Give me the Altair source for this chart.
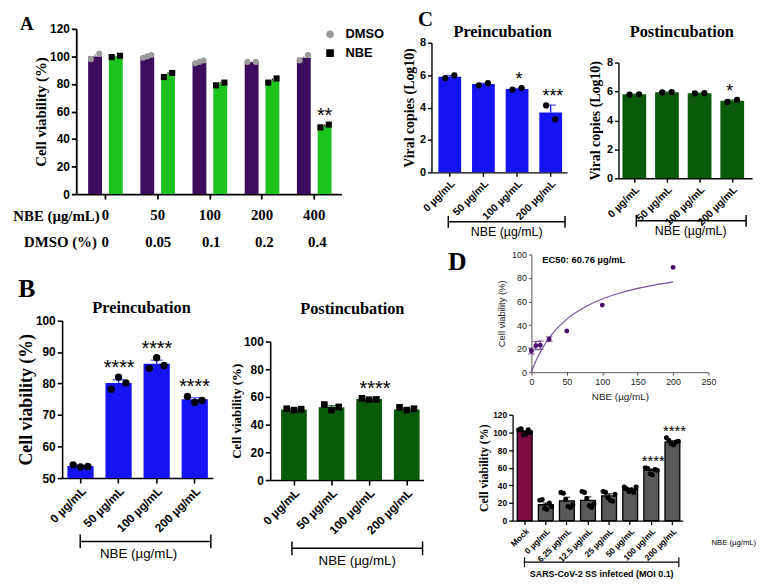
import altair as alt
import pandas as pd

SANS = "Liberation Sans"
SERIF = "Liberation Serif"
W, H = 756, 580
M = 8


def X(v):
    return v - M


def Y(v):
    return v - M


# ---------------- data ----------------
# Panel A
a_conc = ["0", "50", "100", "200", "400"]
a_dmso_pct = ["0", "0.05", "0.1", "0.2", "0.4"]
a_dmso_mean = [100, 99.5, 95.5, 96, 99]
a_dmso_err = [1.5, 0.6, 0.8, 0.3, 1.5]
a_dmso_pts = [[98, 102], [99, 100, 101], [95, 96, 97], [96, 96], [97, 101]]
a_nbe_mean = [100, 87, 80.5, 82.5, 49.5]
a_nbe_err = [0.5, 1.5, 1.0, 1.5, 1.0]
a_nbe_pts = [[99.5, 100.5], [85, 88], [79, 81], [81, 84], [48.5, 50.5]]
a_nbe_stars = ["", "", "", "", "**"]

# Panel B
b_cats = ["0 µg/mL", "50 µg/mL", "100 µg/mL", "200 µg/mL"]
b_pre_mean = [53.8, 80.2, 86.3, 75.0]
b_pre_err = [0.2, 1.0, 1.1, 0.5]
b_pre_pts = [[54.2, 53.5, 53.7], [78.2, 82.0, 80.2], [84.8, 88.2, 85.7], [75.9, 74.0, 74.6]]
b_pre_stars = ["", "****", "****", "****"]
b_post_mean = [51.0, 52.5, 58.5, 51.0]
b_post_err = [0.3, 1.2, 0.4, 0.6]
b_post_pts = [[51.5, 50.5, 51.2], [54.5, 50.5, 52.8], [59.0, 58.0, 58.2], [52.5, 50.5, 51.5]]
b_post_stars = ["", "", "****", ""]

# Panel C
c_cats = ["0 µg/mL", "50 µg/mL", "100 µg/mL", "200 µg/mL"]
c_pre_mean = [5.9, 5.45, 5.15, 3.7]
c_pre_err = [0.08, 0.05, 0.03, 0.45]
c_pre_pts = [[5.82, 5.98], [5.37, 5.5], [5.1, 5.2], [4.13, 3.27]]
c_pre_stars = ["", "", "*", "***"]
c_post_mean = [5.8, 5.95, 5.87, 5.35]
c_post_err = [0.02, 0.02, 0.02, 0.07]
c_post_pts = [[5.78, 5.8], [5.93, 5.96], [5.87, 5.88], [5.28, 5.42]]
c_post_stars = ["", "", "", "*"]

# Panel D (dose response)
d_conc = [0, 6.25, 12.5, 25, 50, 100, 200]
d_via = [18, 22.5, 23, 28, 35, 57, 89]
d_via_err = [2.5, 3.5, 3.5, 2, 0, 0, 0]
d_fit_x = [0, 5, 10, 20, 30, 50, 75, 100, 125, 150, 175, 200]
d_fit_y = [0, 7.6, 14.1, 24.8, 33, 45.1, 55.2, 62.2, 67.3, 71.2, 74.2, 76.7]

# Panel D (bars)
e_cats = ["Mock", "0 µg/mL", "6.25 µg/mL", "12.5 µg/mL", "25 µg/mL", "50 µg/mL", "100 µg/mL", "200 µg/mL"]
e_mean = [101, 18, 22.5, 23, 28, 35, 57, 89]
e_err = [1, 2, 4, 4, 2.5, 1.5, 1.5, 1.5]
e_pts = [
    [103, 104, 97, 98, 103, 100],
    [23, 24, 14, 13, 20, 16],
    [32, 31, 24, 16, 15, 18],
    [33, 32, 25, 17, 15, 19],
    [33, 32, 26, 23, 22, 30],
    [38, 36, 33, 35, 32, 38],
    [60, 59, 53, 52, 58, 57],
    [94, 91, 87, 86, 89, 90],
]
e_stars = ["", "", "", "", "", "", "****", "****"]

# ---------------- colours ----------------
PURPLE = "#3e0c5c"
GREEN = "#1ec21e"
BLUE = "#1414f2"
DKGREEN = "#0b5a0b"
MAROON = "#7c0b3f"
GREY = "#595959"
DPURPLE = "#4a0f6b"

ONE = alt.Data(values=[{}])
units = []


def band_scale(domain, axis_start, axis_end, first_start, last_end, bw):
    n = len(domain)
    step = (last_end - first_start - bw) / (n - 1)
    pi = 1 - bw / step
    span = axis_end - axis_start
    po = max((span / step - (n - pi)) / 2, 0.001)
    align = (first_start - axis_start) / (2 * po * step)
    align = min(max(align, 0), 1)
    return alt.Scale(domain=domain, range=[X(axis_start), X(axis_end)],
                     paddingInner=pi, paddingOuter=po, align=align)


def yaxis(x_px, values, title, tfont, tsize, tpad, lsize, lweight="bold",
          color="black", dwidth=1.5, tick=5, tweight="bold", tcolor="black"):
    return alt.Axis(orient="left", offset=-X(x_px), values=values, title=title,
                    titleFont=tfont, titleFontSize=tsize, titleFontWeight=tweight,
                    titleColor=tcolor, titlePadding=tpad, labelFont=SANS,
                    labelFontSize=lsize, labelFontWeight=lweight, labelColor=tcolor,
                    labelPadding=2, domainColor=color, domainWidth=dwidth,
                    tickColor=color, tickWidth=dwidth, tickSize=tick, grid=False,
                    labelOverlap=False)


def xaxis(y_px, angle, lsize, lfont=SANS, lweight="bold", lpad=2, color="black",
          dwidth=1.5, tick=5, title=None, values=None, tsize=10, tpad=4,
          tcolor="black"):
    kw = dict(orient="bottom", offset=Y(y_px) - H, labelAngle=angle,
              labelFont=lfont, labelFontSize=lsize, labelFontWeight=lweight,
              labelColor=tcolor, labelPadding=lpad, domainColor=color,
              domainWidth=dwidth, tickColor=color, tickWidth=dwidth,
              tickSize=tick, grid=False, labelOverlap=False, labelFlush=False)
    if title is not None:
        kw.update(title=title, titleFont=SANS, titleFontSize=tsize,
                  titleFontWeight="normal", titleColor=tcolor, titlePadding=tpad)
    else:
        kw.update(title=None)
    if values is not None:
        kw.update(values=values)
    return alt.Axis(**kw)


def label(text, x, y, size, font=SANS, weight="normal", align="center",
          baseline="middle", color="black"):
    return alt.Chart(ONE).mark_text(
        text=text, font=font, fontSize=size, fontWeight=weight, align=align,
        baseline=baseline, color=color
    ).encode(x=alt.value(X(x)), y=alt.value(Y(y)))


def bracket(x1, x2, y, cap=6, w=1.5):
    h = alt.Chart(ONE).mark_rule(color="black", strokeWidth=w).encode(
        x=alt.value(X(x1)), x2=alt.value(X(x2)), y=alt.value(Y(y)))
    l = alt.Chart(ONE).mark_rule(color="black", strokeWidth=w).encode(
        x=alt.value(X(x1)), y=alt.value(Y(y - cap)), y2=alt.value(Y(y + cap)))
    r = alt.Chart(ONE).mark_rule(color="black", strokeWidth=w).encode(
        x=alt.value(X(x2)), y=alt.value(Y(y - cap)), y2=alt.value(Y(y + cap)))
    return [h, l, r]


def spread(n, lo=0.22, hi=0.78):
    if n == 1:
        return [0.5]
    return [lo + (hi - lo) * i / (n - 1) for i in range(n)]


# ---------------- Panel A ----------------
A_BW = 35
a_x = band_scale(a_conc, 77, 345, 89, 335, A_BW)
a_y = alt.Scale(domain=[0, 120], range=[Y(193), Y(26)], nice=False)
a_off_band = alt.Scale(domain=["DMSO", "NBE"], range=[0, A_BW], paddingInner=1 / 3, paddingOuter=0)
a_off_q = alt.Scale(domain=[0, 1], range=[0, A_BW])

a_rows = []
for i, c in enumerate(a_conc):
    a_rows.append(dict(conc=c, group="DMSO", mean=a_dmso_mean[i], top=a_dmso_mean[i] + a_dmso_err[i],
                       f=0.2, star="", sy=max(a_dmso_pts[i]), pct=a_dmso_pct[i]))
    a_rows.append(dict(conc=c, group="NBE", mean=a_nbe_mean[i], top=a_nbe_mean[i] + a_nbe_err[i],
                       f=0.8, star=a_nbe_stars[i], sy=max(a_nbe_pts[i]), pct=a_dmso_pct[i]))
a_df = pd.DataFrame(a_rows)
a_pts_rows = []
for i, c in enumerate(a_conc):
    for grp, pts, base in (("DMSO", a_dmso_pts[i], 0.0), ("NBE", a_nbe_pts[i], 0.6)):
        for v, f in zip(pts, spread(len(pts), base + 0.08, base + 0.32)):
            a_pts_rows.append(dict(conc=c, group=grp, v=v, f=f))
a_pts_df = pd.DataFrame(a_pts_rows)

units.append(alt.Chart(a_df).mark_bar().encode(
    x=alt.X("conc:N", scale=a_x, axis=xaxis(193, 0, 15, lfont=SERIF, lpad=9, dwidth=1.8)),
    xOffset=alt.XOffset("group:N", scale=a_off_band),
    y=alt.Y("mean:Q", scale=a_y,
            axis=yaxis(77, list(range(0, 121, 20)), "Cell viability (%)", SERIF, 15, 1, 12, dwidth=1.8)),
    color=alt.Color("group:N", scale=alt.Scale(domain=["DMSO", "NBE"], range=[PURPLE, GREEN]), legend=None),
))
units.append(alt.Chart(a_df).mark_rule(strokeWidth=1.2).encode(
    x=alt.X("conc:N", scale=a_x, axis=None, bandPosition=0),
    xOffset=alt.XOffset("f:Q", scale=a_off_q),
    y=alt.Y("mean:Q", scale=a_y, axis=None), y2="top:Q",
    color=alt.Color("group:N", scale=alt.Scale(domain=["DMSO", "NBE"], range=["#888888", "#111111"]), legend=None),
))
a_legend = alt.Legend(orient="none", legendX=X(327), legendY=Y(25), title=None,
                      labelFont=SANS, labelFontWeight="bold", labelFontSize=13,
                      symbolSize=60, rowPadding=5, labelOffset=9, symbolStrokeWidth=0)
units.append(alt.Chart(a_pts_df).mark_point(filled=True, size=38, opacity=1).encode(
    x=alt.X("conc:N", scale=a_x, axis=None, bandPosition=0),
    xOffset=alt.XOffset("f:Q", scale=a_off_q),
    y=alt.Y("v:Q", scale=a_y, axis=None),
    fill=alt.Fill("group:N", scale=alt.Scale(domain=["DMSO", "NBE"], range=["#9b9b9b", "#000000"]), legend=a_legend),
    shape=alt.Shape("group:N", scale=alt.Scale(domain=["DMSO", "NBE"], range=["circle", "square"]), legend=a_legend),
))
units.append(alt.Chart(a_df).mark_text(font=SANS, fontSize=20, baseline="bottom", dy=1).encode(
    x=alt.X("conc:N", scale=a_x, axis=None, bandPosition=0),
    xOffset=alt.XOffset("f:Q", scale=a_off_q),
    y=alt.Y("sy:Q", scale=a_y, axis=None),
    text="star:N",
))
units.append(alt.Chart(a_df[a_df.group == "DMSO"]).mark_text(
    font=SERIF, fontSize=15, fontWeight="bold").encode(
    x=alt.X("conc:N", scale=a_x, axis=None),
    y=alt.value(Y(241)),
    text="pct:N",
))


# ---------------- generic bar panel ----------------
def bar_panel(cats, means, errs, pts, stars, *, xs, y_scale, ymin, bw, xax, yax,
              colors, err_color, pt_shape="circle", pt_size=50, star_size=18,
              stroke=None, pt_lo=0.22, pt_hi=0.78):
    df = pd.DataFrame(dict(cat=cats, mean=means,
                           top=[m + e for m, e in zip(means, errs)],
                           star=stars,
                           sy=[max(max(p), m + e) for p, m, e in zip(pts, means, errs)]))
    prow = []
    for c, p in zip(cats, pts):
        for v, f in zip(p, spread(len(p), pt_lo, pt_hi)):
            prow.append(dict(cat=c, v=v, f=f))
    pdf = pd.DataFrame(prow)
    off = alt.Scale(domain=[0, 1], range=[0, bw])
    bar_kw = dict(stroke=stroke, strokeWidth=1.3) if stroke else {}
    out = []
    out.append(alt.Chart(df).mark_bar(**bar_kw).encode(
        x=alt.X("cat:N", scale=xs, axis=xax),
        y=alt.Y("mean:Q", scale=y_scale, axis=yax),
        y2=alt.datum(ymin),
        color=alt.Color("cat:N", scale=alt.Scale(domain=cats, range=colors), legend=None),
    ))
    out.append(alt.Chart(df).mark_rule(color=err_color, strokeWidth=1.3).encode(
        x=alt.X("cat:N", scale=xs, axis=None),
        y=alt.Y("mean:Q", scale=y_scale, axis=None), y2="top:Q"))
    out.append(alt.Chart(df).mark_tick(color=err_color, thickness=1.3, size=bw * 0.45).encode(
        x=alt.X("cat:N", scale=xs, axis=None),
        y=alt.Y("top:Q", scale=y_scale, axis=None)))
    out.append(alt.Chart(pdf).mark_point(filled=True, size=pt_size, shape=pt_shape,
                                         color="black", opacity=1).encode(
        x=alt.X("cat:N", scale=xs, axis=None, bandPosition=0),
        xOffset=alt.XOffset("f:Q", scale=off),
        y=alt.Y("v:Q", scale=y_scale, axis=None)))
    out.append(alt.Chart(df).mark_text(font=SANS, fontSize=star_size, baseline="bottom", dy=1).encode(
        x=alt.X("cat:N", scale=xs, axis=None),
        y=alt.Y("sy:Q", scale=y_scale, axis=None),
        text="star:N"))
    return out


# B pre
units += bar_panel(
    b_cats, b_pre_mean, b_pre_err, b_pre_pts, b_pre_stars,
    xs=band_scale(b_cats, 62.7, 215, 68, 210, 26.5),
    y_scale=alt.Scale(domain=[50, 100], range=[Y(480), Y(320.7)], nice=False, zero=False),
    ymin=50, bw=26.5,
    xax=xaxis(480, -45, 12, dwidth=1.6),
    yax=yaxis(62.7, [50, 60, 70, 80, 90, 100], "Cell viability (%)", SERIF, 18, 0, 12, dwidth=1.6),
    colors=[BLUE] * 4, err_color=BLUE, pt_size=55, star_size=20)

# B post
units += bar_panel(
    b_cats, b_post_mean, b_post_err, b_post_pts, b_post_stars,
    xs=band_scale(b_cats, 273, 428, 284, 424, 26),
    y_scale=alt.Scale(domain=[0, 100], range=[Y(482), Y(342)], nice=False),
    ymin=0, bw=26,
    xax=xaxis(482, -45, 12, dwidth=1.6),
    yax=yaxis(273, [0, 20, 40, 60, 80, 100], "Cell viability (%)", SERIF, 13, 0, 12, dwidth=1.6),
    colors=[DKGREEN] * 4, err_color=DKGREEN, pt_shape="square", pt_size=45, star_size=20)

# C pre
units += bar_panel(
    c_cats, c_pre_mean, c_pre_err, c_pre_pts, c_pre_stars,
    xs=band_scale(c_cats, 436, 573, 443, 568, 23),
    y_scale=alt.Scale(domain=[0, 8], range=[Y(171), Y(40)], nice=False),
    ymin=0, bw=23,
    xax=xaxis(171, -45, 10.5, dwidth=1.4, tick=4),
    yax=yaxis(436, [0, 2, 4, 6, 8], "Viral copies (Log10)", SERIF, 14, 3, 11, dwidth=1.4, tick=4),
    colors=[BLUE] * 4, err_color=BLUE, pt_size=40, star_size=18, pt_lo=0.3, pt_hi=0.7)

# C post
units += bar_panel(
    c_cats, c_post_mean, c_post_err, c_post_pts, c_post_stars,
    xs=band_scale(c_cats, 625, 760, 629, 752, 24),
    y_scale=alt.Scale(domain=[0, 8], range=[Y(177), Y(60)], nice=False),
    ymin=0, bw=24,
    xax=xaxis(177, -45, 10.5, dwidth=1.4, tick=4),
    yax=yaxis(625, [0, 2, 4, 6, 8], "Viral copies (Log10)", SERIF, 14, 4, 11, dwidth=1.4, tick=4),
    colors=[DKGREEN] * 4, err_color=DKGREEN, pt_size=40, star_size=18, pt_lo=0.3, pt_hi=0.7)

# D bars
units += bar_panel(
    e_cats, e_mean, e_err, e_pts, e_stars,
    xs=band_scale(e_cats, 518, 690, 522.7, 687, 15),
    y_scale=alt.Scale(domain=[0, 120], range=[Y(523), Y(416)], nice=False),
    ymin=0, bw=15,
    xax=xaxis(523, -45, 8.5, dwidth=1.3, tick=4),
    yax=yaxis(518, [0, 20, 40, 60, 80, 100, 120], "Cell viability (%)", SERIF, 12, 2, 8.5, dwidth=1.3, tick=4),
    colors=[MAROON] + [GREY] * 7, err_color="black", pt_size=26, star_size=15,
    stroke="black", pt_lo=0.1, pt_hi=0.9)

# D dose-response
d_df = pd.DataFrame(dict(c=d_conc, v=d_via, lo=[v - e for v, e in zip(d_via, d_via_err)],
                         hi=[v + e for v, e in zip(d_via, d_via_err)], e=d_via_err))
d_err_df = d_df[d_df.e > 0]
fit_df = pd.DataFrame(dict(c=d_fit_x, v=d_fit_y))
dx = alt.Scale(domain=[0, 250], range=[X(537), X(716)], nice=False)
dy = alt.Scale(domain=[0, 100], range=[Y(373), Y(254)], nice=False)
units.append(alt.Chart(fit_df).mark_line(color="#7a4fa3", strokeWidth=1.2, interpolate="monotone").encode(
    x=alt.X("c:Q", scale=dx,
            axis=xaxis(373, 0, 9, lweight="normal", color="#555555", dwidth=1, tick=3,
                       title="NBE (µg/mL)", values=[0, 50, 100, 150, 200, 250], tsize=10, tpad=6,
                       tcolor="#222222")),
    y=alt.Y("v:Q", scale=dy,
            axis=yaxis(537, [0, 20, 40, 60, 80, 100], "Cell viability (%)", SANS, 9.5, 5, 9,
                       lweight="normal", color="#555555", dwidth=1, tick=3, tweight="normal",
                       tcolor="#222222")),
))
units.append(alt.Chart(d_err_df).mark_rule(color=DPURPLE, strokeWidth=1).encode(
    x=alt.X("c:Q", scale=dx, axis=None), y=alt.Y("lo:Q", scale=dy, axis=None), y2="hi:Q"))
units.append(alt.Chart(d_err_df).mark_tick(color=DPURPLE, orient="horizontal", size=7, thickness=1).encode(
    x=alt.X("c:Q", scale=dx, axis=None), y=alt.Y("hi:Q", scale=dy, axis=None)))
units.append(alt.Chart(d_err_df).mark_tick(color=DPURPLE, orient="horizontal", size=7, thickness=1).encode(
    x=alt.X("c:Q", scale=dx, axis=None), y=alt.Y("lo:Q", scale=dy, axis=None)))
units.append(alt.Chart(d_df).mark_circle(color=DPURPLE, size=24, opacity=1).encode(
    x=alt.X("c:Q", scale=dx, axis=None), y=alt.Y("v:Q", scale=dy, axis=None)))

# ---------------- decorations ----------------
units += [
    label("A", 27, 27, 19, SERIF, "bold", baseline="alphabetic"),
    label("B", 27, 297, 26, SERIF, "bold", baseline="alphabetic"),
    label("C", 430, 23, 21, SERIF, "bold", baseline="alphabetic"),
    label("D", 462, 270, 26, SERIF, "bold", baseline="alphabetic"),
    label("NBE (µg/mL)", 57, 215, 15, SERIF, "bold"),
    label("DMSO (%)", 61, 241, 15, SERIF, "bold"),
    label("Preincubation", 143, 308, 16.5, SERIF, "bold"),
    label("Postincubation", 356, 309, 16.5, SERIF, "bold"),
    label("Preincubation", 508, 29, 16.5, SERIF, "bold"),
    label("Postincubation", 689, 29, 16.5, SERIF, "bold"),
    label("NBE (µg/mL)", 140, 557, 13.5),
    label("NBE (µg/mL)", 361, 564, 13.5),
    label("NBE (µg/mL)", 512, 231, 12.5),
    label("NBE (µg/mL)", 698, 230, 12.5),
    label("EC50: 60.76 µg/mL", 548, 260, 9.5, SANS, "bold", align="left"),
    label("NBE (µg/mL)", 719, 546, 7.8, align="left"),
    label("SARS-CoV-2 SS infetced (MOI 0.1)", 608, 577, 9, SANS, "bold"),
]
units += bracket(81, 213, 544, 7)
units += bracket(295, 427, 551, 7)
units += bracket(453, 571, 221, 6)
units += bracket(643, 754, 220, 6)
units += bracket(530, 686, 565, 5, 1.2)

chart = alt.layer(*units).resolve_scale(
    x="independent", y="independent", xOffset="independent",
    color="independent", fill="independent", shape="independent"
).resolve_axis(x="independent", y="independent").resolve_legend(
    color="independent", fill="independent", shape="independent"
).properties(
    width=W, height=H, padding=0, background="white",
    autosize=alt.AutoSizeParams(type="none")
).configure_view(stroke=None)

chart.save("out.html", embed_options={"renderer": "svg", "actions": False})
